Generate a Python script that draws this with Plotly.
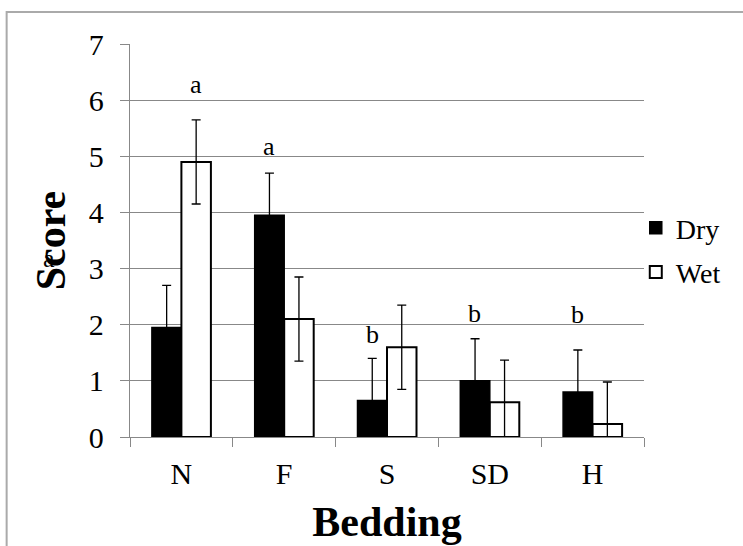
import plotly.graph_objects as go

categories = ["N", "F", "S", "SD", "H"]
series_names = ["Dry", "Wet"]
dry_values = [1.95, 3.95, 0.65, 1.0, 0.8]
wet_values = [4.9, 2.1, 1.6, 0.62, 0.23]
dry_errors = [0.75, 0.75, 0.75, 0.75, 0.75]
wet_errors = [0.75, 0.75, 0.75, 0.75, 0.75]

# significance letters: category, series, letter, label height
letter_cats = ["N", "F", "S", "SD", "H"]
letter_series = ["Wet", "Dry", "Dry", "Dry", "Dry"]
letter_text = ["a", "a", "b", "b", "b"]
letter_y = [6.28, 5.18, 1.82, 2.2, 2.19]

FONT = "Times New Roman"
GRID = "#888888"

fig = go.Figure()
fig.add_trace(go.Bar(
    name=series_names[0], x=categories, y=dry_values, legendgroup="dry",
    marker=dict(color="black", line=dict(color="black", width=1.5)),
    error_y=dict(type="data", array=dry_errors, visible=True,
                 color="black", thickness=1.3, width=4.5),
))
fig.add_trace(go.Bar(
    name=series_names[1], x=categories, y=wet_values, legendgroup="wet",
    marker=dict(color="white", line=dict(color="black", width=2)),
    error_y=dict(type="data", array=wet_errors, visible=True,
                 color="black", thickness=1.3, width=4.5),
))

for c, s, t, yv in zip(letter_cats, letter_series, letter_text, letter_y):
    fig.add_annotation(x=c, y=yv, xref="x", yref="y", text=t, showarrow=False,
                       xshift=(-15 if s == "Dry" else 15), yanchor="middle",
                       font=dict(family=FONT, size=26, color="black"))

# stray letter next to the axis title (as in the original)
fig.add_annotation(x=-0.173, y=0.455, xref="paper", yref="paper", text="a",
                   showarrow=False, font=dict(family=FONT, size=26, color="black"))

# outer chart border
fig.add_shape(type="rect", xref="paper", yref="paper",
              x0=-0.2400, y0=-0.6, x1=1.4, y1=1.0815,
              line=dict(color="#aaaaaa", width=2), layer="below")

fig.update_layout(
    width=743, height=546,
    margin=dict(l=130, r=99, t=44, b=109, autoexpand=False),
    paper_bgcolor="white", plot_bgcolor="white",
    barmode="group", bargap=0.426, bargroupgap=0,
    font=dict(family=FONT, color="black"),
    legend=dict(x=0.984, xanchor="left", y=0.476, yanchor="middle",
                font=dict(family="serif", size=28, color="black"),
                tracegroupgap=5,
                bgcolor="rgba(0,0,0,0)"),
    xaxis=dict(
        title=dict(text="<b>Bedding</b>", font=dict(family=FONT, size=42, color="black"), standoff=17),
        tickfont=dict(family=FONT, size=30, color="black"),
        showline=True, linecolor=GRID, linewidth=1.3,
        ticks="outside", tickson="boundaries", ticklen=9, tickcolor=GRID,
        showgrid=False, ticklabelstandoff=10,
    ),
    yaxis=dict(
        title=dict(text="<b>Score</b>", font=dict(family=FONT, size=42, color="black"), standoff=10),
        tickfont=dict(family=FONT, size=30, color="black"),
        range=[0, 7], dtick=1, tick0=0,
        showline=True, linecolor=GRID, linewidth=1.3,
        ticks="outside", ticklen=9, tickcolor=GRID,
        showgrid=True, gridcolor=GRID, gridwidth=1,
        zeroline=False, ticklabelstandoff=10,
    ),
)

fig.write_html("out.html")
